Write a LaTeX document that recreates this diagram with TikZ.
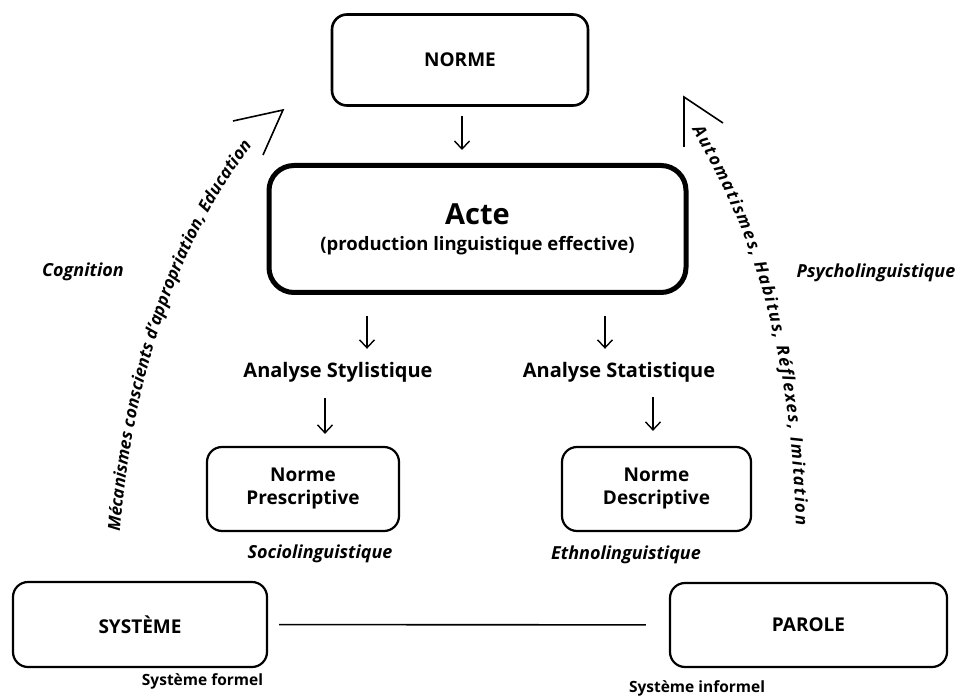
\documentclass[tikz,border=0pt]{standalone}
\usepackage{fontspec}
\setmainfont{Open Sans}
\usetikzlibrary{arrows.meta,decorations.text,calc}
\newcommand\curvefont{\fontsize{17}{20}\selectfont\bfseries\itshape}
\begin{document}
\begin{tikzpicture}[x=1pt,y=-1pt,
  lbl/.style={font=\fontsize{19}{23}\selectfont\bfseries, align=center, inner sep=0pt},
  box/.style={draw, rounded corners=15pt, line width=2.2pt, lbl},
  side/.style={font=\fontsize{18}{21}\selectfont\bfseries\itshape, inner sep=0pt},
  foot/.style={font=\fontsize{15.5}{18}\selectfont\bfseries, inner sep=0pt},
  arr/.style={line width=1.4pt, -{Straight Barb[length=8pt,width=15pt,line width=1.4pt]}},
  barb/.style={line width=1.6pt, line join=miter}
]
\fill[white] (0,0) rectangle (956,700);
\useasboundingbox (0,0) rectangle (956,700);

\node[box, line width=2.6pt, minimum width=256pt, minimum height=91pt] (norme) at (460,60) {NORME};
\node[box, line width=5pt, rounded corners=25pt, minimum width=417pt, minimum height=127pt] (acte) at (477.5,229)
  {{\fontsize{29}{31}\selectfont Acte}\\[3pt]{\fontsize{18.5}{22}\selectfont (production linguistique effective)}};
\node[lbl, font=\fontsize{20}{24}\selectfont\bfseries] (sty) at (338,372) {Analyse Stylistique};
\node[lbl, font=\fontsize{20}{24}\selectfont\bfseries] (stat) at (619,372) {Analyse Statistique};
\node[box, minimum width=192pt, minimum height=84pt] (presc) at (303,489) {Norme\\Prescriptive};
\node[box, minimum width=189pt, minimum height=84pt] (desc) at (656.5,489) {Norme\\Descriptive};
\node[side] (socio) at (320,554) {Sociolinguistique};
\node[side] (ethno) at (626,555) {Ethnolinguistique};
\node[box, minimum width=254pt, minimum height=85pt] (sys) at (140,624.5) {SYSTÈME};
\node[box, minimum width=277pt, minimum height=84pt] (par) at (808.5,625) {PAROLE};
\node[foot] (formel) at (202.5,681) {Système formel};
\node[foot] (informel) at (697,688) {Système informel};
\node[side] (cog) at (83,272) {Cognition};
\node[side] (psy) at (876,273) {Psycholinguistique};

\draw[arr] ($(norme.south)+(2,9)$) -- ($(acte.north)+(-15.5,-13)$);
\draw[arr] ($(acte.south)+(-110.5,21)$) -- ($(sty.north)+(29,-13)$);
\draw[arr] ($(acte.south)+(127.5,21)$) -- ($(stat.north)+(-14,-13)$);
\draw[arr] ($(sty.south)+(-13,16)$) -- ($(presc.north)+(22,-12)$);
\draw[arr] ($(stat.south)+(34,15)$) -- ($(desc.north)+(-3.5,-15)$);
\draw[line width=1.6pt, shorten <=11pt, shorten >=23pt] (sys) -- (par);

\coordinate (ls) at (120,532);
\coordinate (le) at (252,146);
\coordinate (ltip) at (283,110);
\path[decorate, decoration={text along path, text align={fit to path},
  text={|\curvefont|Mécanismes conscients d'appropriation, Education}}]
  (ls) .. controls (130,400) and (170,250) .. (le);
\draw[barb] (233,121) -- (ltip) -- (263,155);

\coordinate (rs) at (692,130);
\coordinate (re) at (796,525);
\coordinate (rtip) at (684,97);
\path[decorate, decoration={text along path, text align={fit to path},
  text={|\curvefont|Automatismes, Habitus, Réflexes, Imitation}}]
  (rs) .. controls (745,220) and (790,330) .. (re);
\draw[barb] (684,147) -- (rtip) -- (723,123);
\end{tikzpicture}
\end{document}
